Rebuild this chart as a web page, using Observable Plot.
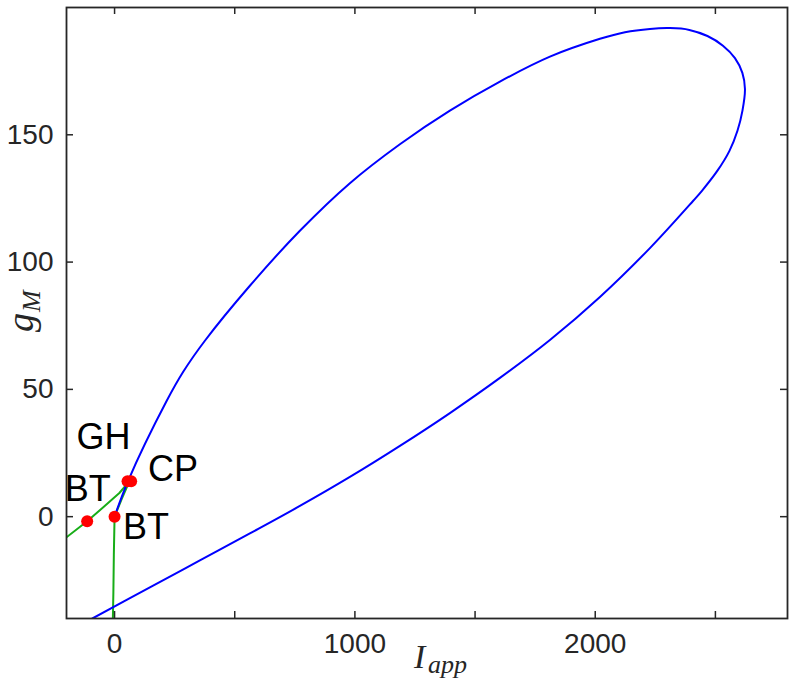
<!DOCTYPE html>
<html>
<head>
<meta charset="utf-8">
<script src="https://cdn.jsdelivr.net/npm/d3@7"></script>
<script src="https://cdn.jsdelivr.net/npm/@observablehq/plot@0.6"></script>
<style>
  html, body { margin: 0; padding: 0; background: #fff; }
  #chart { width: 789px; height: 681px; }
</style>
</head>
<body>
<div id="chart"></div>
<script>
// Hopf curve (blue), traced from BT(0,0) around the loop
const hopfI = [0, 56, 217.6, 286.3, 375.8, 563, 771.1, 979.2, 1187.3, 1395.3, 1603.4, 1811.5, 2019.6, 2123.6, 2227.6, 2310.9, 2391.6, 2466.9, 2531.4, 2581.4, 2612.2, 2623, 2612.6, 2591.8, 2558.5, 2508.5, 2444, 2407.8, 2227.6, 2019.6, 1811.5, 1603.4, 1395.3, 1187.3, 979.2, 771.1, 563, 355, 146.9, -90.3, -186];
const hopfG = [0, 14, 45.6, 57.0, 69.1, 90.7, 112.3, 131.0, 146.3, 159.5, 170.9, 180.7, 187.7, 190.3, 191.6, 191.9, 191.2, 188.8, 185.0, 180.1, 174.3, 168.0, 159.5, 151.6, 143.7, 135.9, 128.0, 124.1, 105.5, 86.3, 69.4, 54.5, 40.7, 27.8, 15.6, 4.2, -6.6, -17.2, -27.8, -39.9, -44.8];

// Saddle-node curve (green) with cusp at CP
const foldI = [-225, -200, -114, -47, 20, 62, 30, 0, -3, -5, -8];
const foldG = [-9.9, -8.1, -1.8, 3.7, 9.3, 14, 7, 0, -15, -30, -45];

// Special points
const ptName = ["BT", "BT", "GH", "CP"];
const ptI = [-114, 0, 54, 69];
const ptG = [-1.8, 0, 13.9, 13.9];

// Point labels
const lblText = ["GH", "CP", "BT", "BT"];
const lblI = [-158, 139, -207, 35];
const lblG = [26.7, 14.1, 6.3, -8.6];

// Ticks
const xTicks = [0, 500, 1000, 1500, 2000, 2500];
const xTickLabels = [0, 1000, 2000];
const yTicks = [0, 50, 100, 150];

const hopf = hopfI.map((v, i) => ({I: v, g: hopfG[i]}));
const fold = foldI.map((v, i) => ({I: v, g: foldG[i]}));
const pts = ptI.map((v, i) => ({I: v, g: ptG[i], name: ptName[i]}));
const lbls = lblI.map((v, i) => ({I: v, g: lblG[i], text: lblText[i]}));

const W = 789, H = 681, mL = 66, mR = 2, mT = 7, mB = 63;
const frameW = W - mL - mR, frameH = H - mT - mB;
const tickLen = 7;
const axisColor = "#262626";
const serif = "'Liberation Serif', 'DejaVu Serif', serif";

const chart = Plot.plot({
  width: W, height: H,
  marginLeft: mL, marginRight: mR, marginTop: mT, marginBottom: mB,
  x: {domain: [-200, 2800]},
  y: {domain: [-40, 200]},
  style: {fontFamily: "'Liberation Sans', Arial, Helvetica, sans-serif", background: "#fff"},
  marks: [
    Plot.line(fold, {x: "I", y: "g", stroke: "#18ad18", strokeWidth: 2, clip: true}),
    Plot.line(hopf, {x: "I", y: "g", stroke: "#0000ff", strokeWidth: 2, curve: "catmull-rom", clip: true}),
    Plot.dot(pts, {x: "I", y: "g", r: 6, fill: "#ff0000", stroke: "none"}),
    Plot.text(lbls, {x: "I", y: "g", text: "text", textAnchor: "start", lineAnchor: "bottom", fontSize: 36, fill: "#000"}),
    // inward ticks on all four sides
    Plot.tickX(xTicks, {x: d => d, insetTop: frameH - tickLen, stroke: axisColor, strokeWidth: 1.5}),
    Plot.tickX(xTicks, {x: d => d, insetBottom: frameH - tickLen, stroke: axisColor, strokeWidth: 1.5}),
    Plot.tickY(yTicks, {y: d => d, insetRight: frameW - tickLen, stroke: axisColor, strokeWidth: 1.5}),
    Plot.tickY(yTicks, {y: d => d, insetLeft: frameW - tickLen, stroke: axisColor, strokeWidth: 1.5}),
    Plot.frame({stroke: axisColor, strokeWidth: 1.8}),
    Plot.axisX(xTickLabels, {anchor: "bottom", tickSize: 0, tickPadding: 15, fontSize: 28, fill: axisColor, label: null, tickFormat: d => String(d)}),
    Plot.axisY(yTicks, {anchor: "left", tickSize: 0, tickPadding: 13, fontSize: 28, fill: axisColor, label: null, tickFormat: d => String(d)}),
    // axis titles (LaTeX-style italic with subscripts)
    Plot.text(["I"], {frameAnchor: "bottom", dx: -13, dy: 49, textAnchor: "start", lineAnchor: "bottom", fontSize: 34, fontStyle: "italic", fontFamily: serif, fill: axisColor}),
    Plot.text(["app"], {frameAnchor: "bottom", dx: 1, dy: 54, textAnchor: "start", lineAnchor: "bottom", fontSize: 26, fontStyle: "italic", fontFamily: serif, fill: axisColor}),
    Plot.text(["g"], {frameAnchor: "left", dx: -34, dy: 0, rotate: -90, textAnchor: "end", lineAnchor: "bottom", fontSize: 38, fontStyle: "italic", fontFamily: serif, fill: axisColor}),
    Plot.text(["M"], {frameAnchor: "left", dx: -27, dy: -1, rotate: -90, textAnchor: "start", lineAnchor: "bottom", fontSize: 26, fontStyle: "italic", fontFamily: serif, fill: axisColor})
  ]
});
document.getElementById("chart").appendChild(chart);
</script>
</body>
</html>
